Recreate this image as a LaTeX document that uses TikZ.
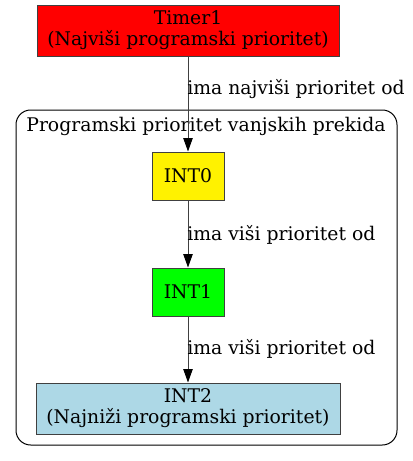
\documentclass[tikz,border=0pt]{standalone}
\usepackage{fontspec}
\setmainfont{DejaVu Serif}
\usetikzlibrary{arrows.meta}
\definecolor{edgegray}{HTML}{404040}
\definecolor{lblue}{HTML}{ADD8E6}
\begin{document}
\begin{tikzpicture}[x=0.75pt,y=-0.75pt,
  every node/.style={font=\fontsize{14.1}{15.8}\selectfont, inner sep=0pt},
  box/.style={draw=edgegray, line width=0.75pt, align=center, text=black},
  conn/.style={draw=edgegray, line width=0.75pt, -{Triangle[length=10pt,width=7pt,color=black,fill=black]}},
  elabel/.style={anchor=west, text=black},
  cluster/.style={draw=black, line width=0.75pt, rounded corners=11pt}]
\useasboundingbox (0,0) rectangle (413,461);
\draw[cluster] (16,110) rectangle (397,445);
\node (clabel) at (206,126) {Programski prioritet vanjskih prekida};
\node[box, fill=red, minimum width=302*0.75pt, minimum height=51*0.75pt] (timer) at (188,30.5) {Timer1\\(Najviši programski prioritet)};
\node[box, fill=yellow, minimum width=72*0.75pt, minimum height=48*0.75pt] (int0) at (188,176) {INT0};
\node[box, fill=green, minimum width=72*0.75pt, minimum height=48*0.75pt] (int1) at (188,292) {INT1};
\node[box, fill=lblue, minimum width=304*0.75pt, minimum height=51*0.75pt] (int2) at (188,408.5) {INT2\\(Najniži programski prioritet)};
\draw[conn] (timer) -- (int0);
\draw[conn] (int0) -- (int1);
\draw[conn] (int1) -- (int2);
\node[elabel] (l1) at (187,89) {ima najviši prioritet od};
\node[elabel] (l2) at (187,235) {ima viši prioritet od};
\node[elabel] (l3) at (187,349) {ima viši prioritet od};
\end{tikzpicture}
\end{document}
